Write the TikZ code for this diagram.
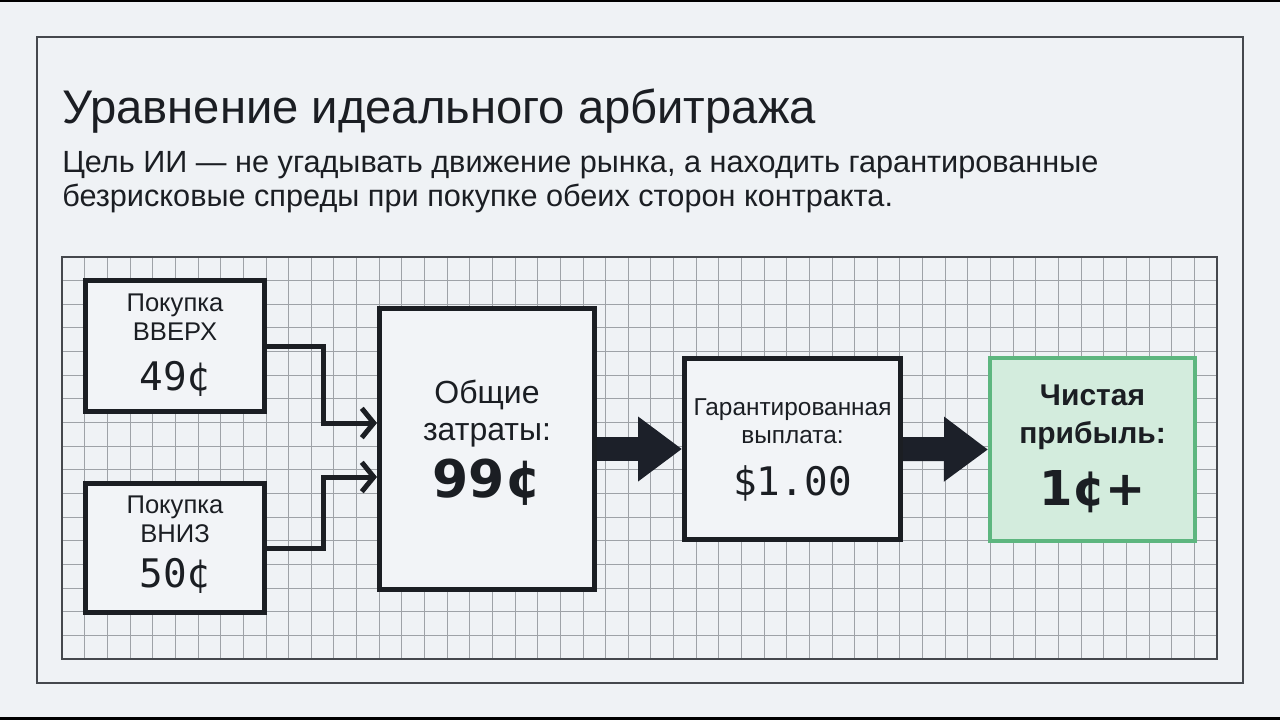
\documentclass[tikz,border=0pt]{standalone}
\usepackage{fontspec}
\setmainfont{Liberation Sans}
\newfontfamily\monofont{DejaVu Sans Mono}
\newfontfamily\numfont{DejaVu Sans}
\usetikzlibrary{arrows.meta}
\definecolor{bg}{HTML}{EFF2F5}
\definecolor{boxfill}{HTML}{F2F4F7}
\definecolor{ink}{HTML}{1B1E23}
\definecolor{arrowc}{HTML}{1C2029}
\definecolor{gridc}{HTML}{9EA2A7}
\definecolor{framec}{HTML}{45484D}
\definecolor{greenline}{HTML}{5DB67F}
\definecolor{greenfill}{HTML}{D3ECDD}
\tikzset{
  frame/.style={draw=framec, line width=1.5pt},
  gridline/.style={draw=gridc, line width=0.8pt},
  gridborder/.style={draw=framec, line width=1.5pt},
  box/.style={draw=ink, fill=boxfill, line width=3.75pt, inner sep=0pt},
  netbox/.style={draw=greenline, fill=greenfill, line width=3pt, inner sep=0pt},
  conn/.style={draw=ink, line width=3.75pt, -{Straight Barb[length=9pt,width=22pt]}},
  fat/.style={draw=arrowc, line width=18pt, -{Triangle[length=33pt,width=46.5pt]}},
  txt/.style={inner sep=0pt, anchor=base, text=ink},
}
\begin{document}
\begin{tikzpicture}[x=0.75pt,y=-0.75pt]
\useasboundingbox (0,0) rectangle (1280,720);
\fill[bg] (0,0) rectangle (1280,720);
\fill[black] (0,0) rectangle (1280,2.5);
\fill[black] (0,716.5) rectangle (1280,720);
\draw[frame] (37,37) rectangle (1242.5,682.5);
% title
\node[txt, anchor=base west, font=\fontsize{35.4}{42}\selectfont] (title) at (62,124) {Уравнение идеального арбитража};
\node[txt, anchor=base west, font=\fontsize{23}{28}\selectfont] (sub1) at (62,173) {Цель ИИ — не угадывать движение рынка, а находить гарантированные};
\node[txt, anchor=base west, font=\fontsize{23}{28}\selectfont] (sub2) at (62,207) {безрисковые спреды при покупке обеих сторон контракта.};
% grid
\foreach \i in {1,...,50} {\pgfmathsetmacro\gx{floor(62.3+22.64*\i)+0.5}
  \draw[gridline] (\gx,256.7) -- (\gx,659.3);}
\foreach \j in {1,...,16} {\pgfmathsetmacro\gy{floor(256.7+23.68*\j)+0.5}
  \draw[gridline] (62.3,\gy) -- (1216.7,\gy);}
\draw[gridborder] (62.3,256.7) rectangle (1216.7,659.3);
% boxes
\node[box, minimum width=134.25pt, minimum height=98.25pt] (up) at (175,346) {};
\node[box, minimum width=134.25pt, minimum height=96.75pt] (down) at (175,548) {};
\node[box, minimum width=161.25pt, minimum height=210.75pt] (big) at (487,449) {};
\node[box, minimum width=162pt, minimum height=135.75pt] (pay) at (792.5,449) {};
\node[netbox, minimum width=153.75pt, minimum height=137.25pt] (net) at (1092.5,449.5) {};
% connectors
\coordinate (j1) at (323,423);
\coordinate (j2) at (323,477);
\draw[conn] (up.east) -| (j1) -- (j1 -| big.west);
\draw[conn] (down.east) -| (j2) -- (j2 -| big.west);
\draw[fat] (big.east) -- (pay.west);
\draw[fat] (pay.east) -- (net.west);
% texts
\node[txt, font=\fontsize{19.2}{22}\selectfont] (upa) at (175,311) {Покупка};
\node[txt, font=\fontsize{19.2}{22}\selectfont] (upb) at (175,340) {ВВЕРХ};
\node[txt, font=\monofont\fontsize{29.5}{34}\selectfont] (upc) at (175,390) {49¢};
\node[txt, font=\fontsize{19.2}{22}\selectfont] (dna) at (175,513) {Покупка};
\node[txt, font=\fontsize{19.2}{22}\selectfont] (dnb) at (175,542) {ВНИЗ};
\node[txt, font=\monofont\fontsize{29.5}{34}\selectfont] (dnc) at (175,587) {50¢};
\node[txt, font=\fontsize{24}{28}\selectfont] (bga) at (487,403) {Общие};
\node[txt, font=\fontsize{24}{28}\selectfont] (bgb) at (487,440) {затраты:};
\node[txt, font=\numfont\bfseries\fontsize{39}{44}\selectfont] (bgc) at (487,497) {99¢};
\node[txt, font=\fontsize{18.3}{22}\selectfont] (pya) at (792.5,415) {Гарантированная};
\node[txt, font=\fontsize{18.3}{22}\selectfont] (pyb) at (792.5,443) {выплата:};
\node[txt, font=\monofont\fontsize{29.5}{34}\selectfont] (pyc) at (792.5,495) {\$1.00};
\node[txt, font=\bfseries\fontsize{22.5}{26}\selectfont] (nta) at (1092.5,405) {Чистая};
\node[txt, font=\bfseries\fontsize{22.5}{26}\selectfont] (ntb) at (1092.5,443) {прибыль:};
\node[txt, font=\numfont\bfseries\fontsize{36}{42}\selectfont] (ntc) at (1092.5,505) {1¢+};
\end{tikzpicture}
\end{document}
